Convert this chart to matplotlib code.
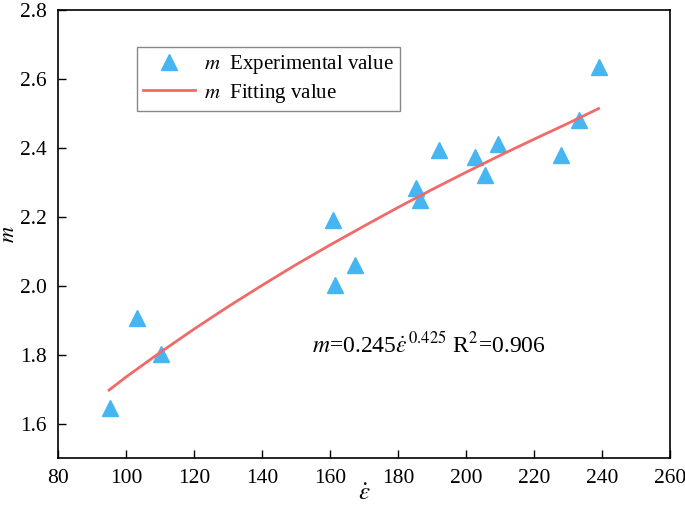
import matplotlib
matplotlib.use("Agg")
import matplotlib.pyplot as plt

strain_rate = [95.2, 103.1, 110.2, 161.0, 161.4, 167.4, 185.2, 186.6,
               192.0, 202.7, 205.5, 209.4, 228.0, 233.1, 239.0]
m_exp = [1.645, 1.906, 1.803, 2.191, 2.003, 2.061, 2.283, 2.249,
         2.394, 2.373, 2.322, 2.411, 2.380, 2.481, 2.634]

# Curva de ajuste (valores leidos)
fit_x = [95, 100, 110, 120, 130, 140, 150, 160, 170, 180, 190, 200, 210, 220, 230, 239]
fit_m = [1.697, 1.735, 1.806, 1.874, 1.939, 2.001, 2.061, 2.118, 2.173, 2.227,
         2.279, 2.329, 2.378, 2.425, 2.471, 2.514]

x_ticks = [80, 100, 120, 140, 160, 180, 200, 220, 240, 260]
y_ticks = [1.6, 1.8, 2.0, 2.2, 2.4, 2.6, 2.8]

plt.rcParams["font.family"] = ["Liberation Serif", "DejaVu Serif"]
plt.rcParams["mathtext.fontset"] = "stix"

fig = plt.figure(figsize=(6.85, 5.17), dpi=100)
ax = fig.add_axes([0.0847, 0.1141, 0.8934, 0.8666])

ax.plot(strain_rate, m_exp, linestyle="none", marker="^", markersize=12,
        color="#45B6F2", label="$m$  Experimental value")
ax.plot(fit_x, fit_m, color="#F06A6A", linewidth=2, label="$m$  Fitting value")

ax.set_xlim(80, 260)
ax.set_ylim(1.5, 2.8)
ax.set_xticks(x_ticks)
ax.set_yticks(y_ticks)
ax.set_yticklabels([f"{v:.1f}" for v in y_ticks])
ax.tick_params(direction="in", length=6, width=1, labelsize=15.5, pad=8)
for s in ax.spines.values():
    s.set_linewidth(1.2)

ax.set_xlabel(r"$\dot{\varepsilon}$", fontsize=18)
ax.set_ylabel("$m$", fontsize=16)
ax.xaxis.set_label_coords(0.5, -0.056)
ax.yaxis.set_label_coords(-0.063, 0.5)

ax.text(189, 1.829, r"$m$=0.245$\dot{\varepsilon}^{\,0.425}$ R$^2$=0.906",
        fontsize=17, ha="center", va="center")

leg = ax.legend(loc="upper left", bbox_to_anchor=(0.129, 0.917), borderaxespad=0,
                fontsize=15, fancybox=False, edgecolor="#888888", framealpha=1,
                handlelength=2.5, handletextpad=0.4, borderpad=0.3, labelspacing=0.25)
leg.get_frame().set_linewidth(1)

fig.savefig("out.png", dpi=100)
